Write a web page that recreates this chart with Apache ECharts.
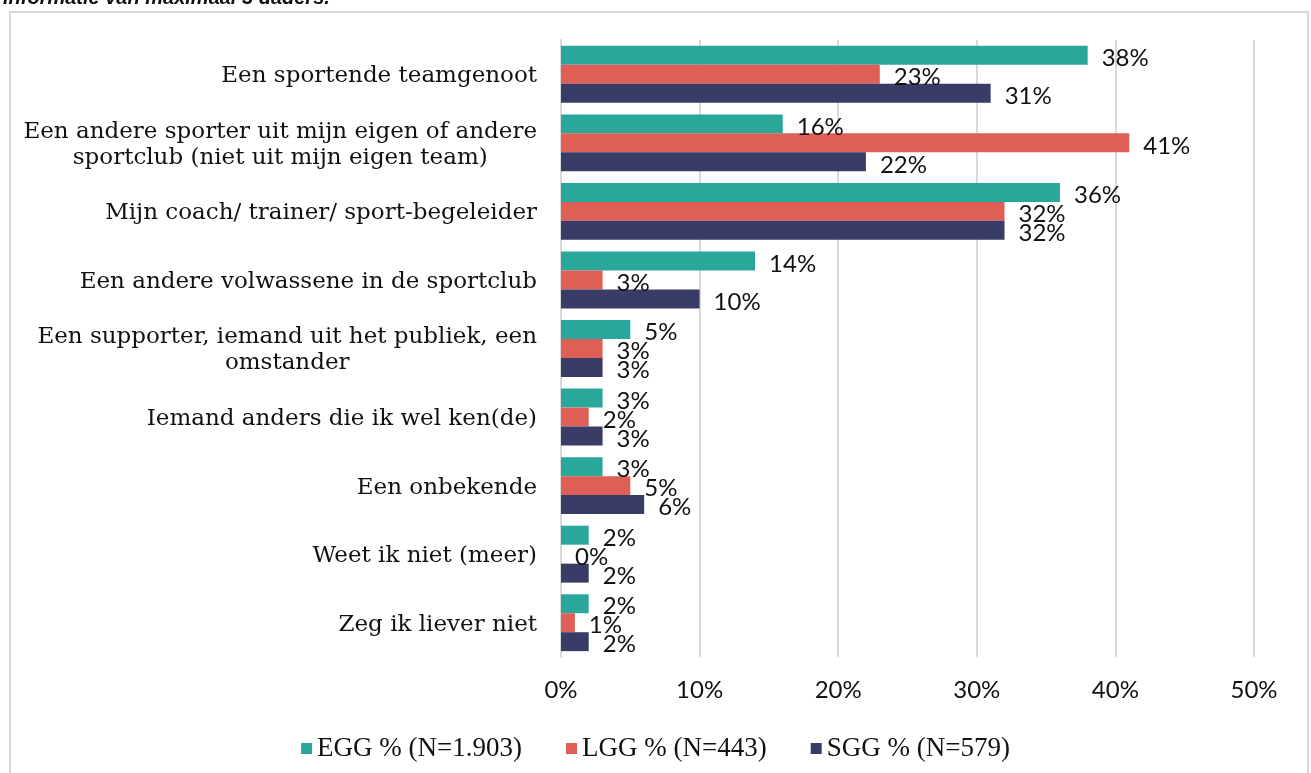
<!DOCTYPE html>
<html>
<head>
<meta charset="utf-8">
<script src="https://cdn.jsdelivr.net/npm/echarts@6/dist/echarts.min.js"></script>
<style>
  html, body { margin: 0; padding: 0; background: #fff; }
  #box { position: absolute; left: 9px; top: 11px; width: 1300px; height: 780px;
         border: 2px solid #d9d9d9; box-sizing: border-box; }
  #chart { width: 1311px; height: 773px; }
</style>
</head>
<body>
<div id="box"></div>
<div id="chart"></div>
<script>
// categorieen (boven naar beneden)
var categories = [
  'Een sportende teamgenoot',
  'Een andere sporter uit mijn eigen of andere\nsportclub (niet uit mijn eigen team)',
  'Mijn coach/ trainer/ sport-begeleider',
  'Een andere volwassene in de sportclub',
  'Een supporter, iemand uit het publiek, een\nomstander',
  'Iemand anders die ik wel ken(de)',
  'Een onbekende',
  'Weet ik niet (meer)',
  'Zeg ik liever niet'
];
var seriesNames = ['EGG % (N=1.903)', 'LGG % (N=443)', 'SGG % (N=579)'];
var egg = [38, 16, 36, 14, 5, 3, 3, 2, 2];
var lgg = [23, 41, 32, 3, 3, 2, 5, 0, 1];
var sgg = [31, 22, 32, 10, 3, 3, 6, 2, 2];
var ticks = [0, 10, 20, 30, 40, 50];

var colors = ['#2aa79b', '#de5f55', '#3a3c68'];
var labelFont = 'Lato';

function makeSeries(name, data, color) {
  return {
    name: name,
    type: 'bar',
    data: data,
    barGap: '0%',
    barCategoryGap: '17%',
    itemStyle: { color: color },
    label: {
      show: true,
      position: 'right',
      distance: 14,
      offset: [0, 3],
      formatter: '{c}%',
      fontFamily: labelFont,
      fontSize: 24,
      color: '#111'
    }
  };
}

var chart = echarts.init(document.getElementById('chart'));
chart.setOption({
  animation: false,
  title: {
    text: 'informatie van maximaal 3 daders.',
    left: -2,
    top: -17,
    textStyle: { fontFamily: 'Liberation Sans', fontStyle: 'italic', fontWeight: 'bold', fontSize: 20, color: '#111' }
  },
  grid: { left: 561, right: 57, top: 40, bottom: 116 },
  xAxis: {
    type: 'value',
    min: ticks[0],
    max: ticks[ticks.length - 1],
    interval: 10,
    axisLine: { show: false },
    axisTick: { show: false },
    splitLine: { lineStyle: { color: '#d9d9d9', width: 2 } },
    axisLabel: {
      formatter: '{value}%',
      margin: 21,
      fontFamily: labelFont,
      fontSize: 24,
      color: '#111'
    }
  },
  yAxis: {
    type: 'category',
    inverse: true,
    data: categories,
    axisLine: { show: true, lineStyle: { color: '#d9d9d9', width: 2 } },
    axisTick: { show: false },
    axisLabel: {
      margin: 24,
      padding: [4, 0, 0, 0],
      fontFamily: 'DejaVu Serif',
      fontSize: 23,
      lineHeight: 26,
      color: '#111',
      formatter: function (v) {
        return v.split('\n').map(function (s) { return '{c|' + s + '}'; }).join('\n');
      },
      rich: {
        c: { align: 'center', fontFamily: 'DejaVu Serif', fontSize: 23, lineHeight: 26, color: '#111' }
      }
    }
  },
  legend: {
    top: 730,
    left: 'center',
    itemWidth: 11,
    itemHeight: 11,
    itemGap: 44,
    icon: 'rect',
    textStyle: { fontFamily: 'Liberation Serif', fontSize: 27, color: '#111' },
    data: seriesNames
  },
  series: [
    makeSeries(seriesNames[0], egg, colors[0]),
    makeSeries(seriesNames[1], lgg, colors[1]),
    makeSeries(seriesNames[2], sgg, colors[2])
  ]
});
</script>
</body>
</html>
